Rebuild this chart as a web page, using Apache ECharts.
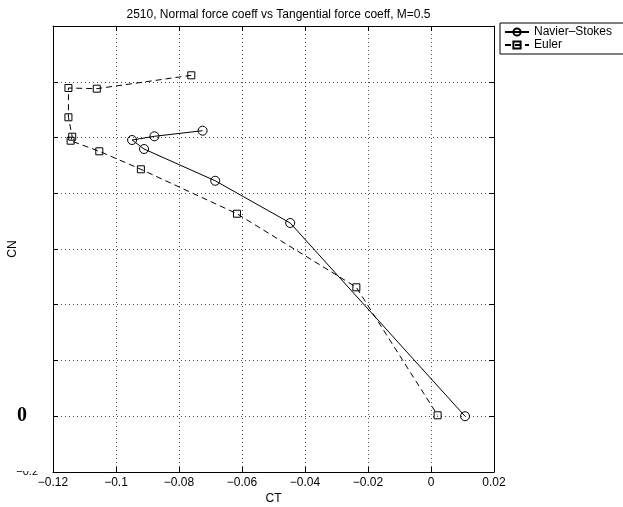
<!DOCTYPE html>
<html>
<head>
<meta charset="utf-8">
<script src="https://cdn.jsdelivr.net/npm/echarts@6/dist/echarts.min.js"></script>
<style>html,body{margin:0;padding:0;background:#fff}#c{width:623px;height:507px}</style>
</head>
<body>
<div id="c"></div>
<script>
// Data
var titleText = '2510, Normal force coeff vs Tangential force coeff, M=0.5';
var seriesNames = ['Navier\u2013Stokes', 'Euler'];
var nsCT = [-0.0725, -0.0878, -0.0949, -0.0911, -0.0685, -0.0447, 0.0108];
var nsCN = [1.0244, 1.0043, 0.9910, 0.9587, 0.8447, 0.6933, 0.0000];
var eulerCT = [-0.0761, -0.1061, -0.1151, -0.1151, -0.1139, -0.1144, -0.1053, -0.0921, -0.0616, -0.0237, 0.0021];
var eulerCN = [1.2231, 1.1751, 1.1776, 1.0725, 1.0029, 0.9885, 0.9505, 0.8859, 0.7266, 0.4626, 0.0034];
var xMin = -0.12, xMax = 0.02, xStep = 0.02;
var yMin = -0.2, yMax = 1.4, yStep = 0.2;
var yShownLabels = ['0', '-0.2'];

function zip(a, b) { return a.map(function (v, i) { return [v, b[i]]; }); }
function fmt(v) { return String(Math.round(v * 100) / 100).replace('-', '\u2212'); }

var font = 'Liberation Sans';
var chart = echarts.init(document.getElementById('c'), null, {renderer: 'canvas'});
var tickStyle = {show: true, inside: true, length: 5, lineStyle: {color: '#000', width: 1}};
var lineAxis = {show: true, onZero: false, lineStyle: {color: '#000', width: 1}};
chart.setOption({
  animation: false,
  backgroundColor: '#fff',
  textStyle: {fontFamily: font},
  title: {
    text: titleText, left: 273.5, textAlign: 'center', top: 4,
    textStyle: {fontFamily: font, fontSize: 12, fontWeight: 'normal', color: '#000'}
  },
  legend: {
    data: seriesNames, orient: 'vertical', left: 500, top: 23,
    borderColor: '#000', borderWidth: 1, padding: [3, 60, 3, 4],
    itemWidth: 24, itemHeight: 9, itemGap: 1,
    textStyle: {fontFamily: font, fontSize: 12, color: '#000', lineHeight: 12}
  },
  grid: {left: 53, right: 129, top: 26, bottom: 35, containLabel: false, outerBoundsMode: 'none'},
  xAxis: [{
    type: 'value', min: xMin, max: xMax, interval: xStep, position: 'bottom',
    name: 'CT', nameLocation: 'middle', nameGap: 21, nameMoveOverlap: false,
    nameTextStyle: {fontFamily: font, fontSize: 12, color: '#000'},
    axisLine: lineAxis, axisTick: tickStyle,
    axisLabel: {formatter: fmt, margin: 5, fontFamily: font, fontSize: 12, color: '#000'},
    splitLine: {show: true, lineStyle: {color: '#000', width: 1, type: [1, 3], opacity: 0.7}}
  }, {
    type: 'value', min: xMin, max: xMax, interval: xStep, position: 'top',
    axisLine: lineAxis, axisTick: tickStyle, axisLabel: {show: false}, splitLine: {show: false}
  }],
  yAxis: [{
    type: 'value', min: yMin, max: yMax, interval: yStep, position: 'left',
    name: 'CN', nameLocation: 'middle', nameGap: 34, nameMoveOverlap: false,
    nameTextStyle: {fontFamily: font, fontSize: 12, color: '#000'},
    axisLine: lineAxis, axisTick: tickStyle,
    axisLabel: {
      margin: 15, color: '#000',
      formatter: function (v) {
        var s = String(Math.round(v * 100) / 100);
        if (yShownLabels.indexOf(s) < 0) return '';
        if (s === '0') return '{z|0}';
        return '{s|' + fmt(v) + '}';
      },
      rich: {
        z: {fontFamily: 'Liberation Serif', fontWeight: 'bold', fontSize: 20, color: '#000', padding: [0, 11, 0, 0]},
        s: {fontFamily: font, fontSize: 11, color: '#000'}
      }
    },
    splitLine: {show: true, lineStyle: {color: '#000', width: 1, type: [1, 3], opacity: 0.7}}
  }, {
    type: 'value', min: yMin, max: yMax, interval: yStep, position: 'right',
    axisLine: lineAxis, axisTick: tickStyle, axisLabel: {show: false}, splitLine: {show: false}
  }],
  graphic: [{
    type: 'rect', left: 14, top: 455, z: 100,
    shape: {width: 38, height: 16}, style: {fill: '#fff'}, silent: true
  }],
  series: [{
    name: seriesNames[0], type: 'line', data: zip(nsCT, nsCN),
    symbol: 'circle', symbolSize: 9,
    itemStyle: {color: 'rgba(0,0,0,0)', borderColor: '#000', borderWidth: 1},
    lineStyle: {color: '#000', width: 1, type: 'solid'},
    z: 3
  }, {
    name: seriesNames[1], type: 'line', data: zip(eulerCT, eulerCN),
    symbol: 'rect', symbolSize: 7,
    itemStyle: {color: 'rgba(0,0,0,0)', borderColor: '#000', borderWidth: 1},
    lineStyle: {color: '#000', width: 1, type: [6, 4]},
    z: 3
  }]
});
</script>
</body>
</html>
